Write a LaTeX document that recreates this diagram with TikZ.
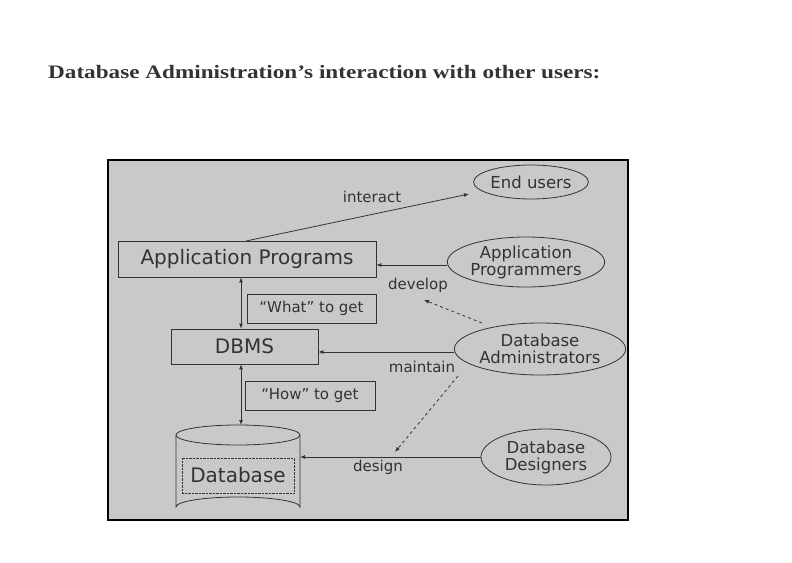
\documentclass[tikz,border=0pt]{standalone}
\usepackage{graphicx}
\usepackage{fontspec}
\setmainfont{DejaVu Sans}
\newfontfamily\titlefont{Liberation Serif}
\usetikzlibrary{shapes.geometric,arrows.meta}
\definecolor{panel}{HTML}{C9C9C9}
\definecolor{ink}{HTML}{333333}
\begin{document}
\begin{tikzpicture}[x=1pt,y=-1pt,
  box/.style={draw=ink,line width=0.8pt,inner sep=0pt},
  ell/.style={draw=ink,ellipse,line width=0.8pt,align=center,inner sep=0pt,font=\fontsize{16.5}{17}\selectfont,text=ink},
  lbl/.style={font=\fontsize{15}{15}\selectfont,text=ink},
  arr/.style={draw=ink,line width=0.8pt,-{Latex[length=5pt,width=4pt]}},
  dasharr/.style={arr,dashed}]
\useasboundingbox[fill=white] (0,0) rectangle (792,562);
\node[anchor=west,inner sep=0pt,font=\titlefont\bfseries\fontsize{19}{19}\selectfont,text=ink] (title) at (48,72) {\scalebox{1.22}[1]{Database Administration’s interaction with other users:}};
\draw[fill=panel,draw=black,line width=2pt] (108,160) rectangle (628,520);
% boxes
\node[box,minimum width=258,minimum height=36,font=\fontsize{20}{20}\selectfont,text=ink] (ap) at (247,259) {Application Programs};
\node[box,minimum width=147,minimum height=35,font=\fontsize{20}{20}\selectfont,text=ink] (dbms) at (244.5,346.5) {DBMS};
\node[box,minimum width=129,minimum height=29,lbl] (what) at (311.5,308.5) {“What” to get};
\node[box,minimum width=130,minimum height=29,lbl] (how) at (310,395.5) {“How” to get};
% cylinder
\draw[ink,line width=0.8pt,fill=panel] (176,435) -- (176,507) arc[start angle=180,end angle=360,x radius=62,y radius=10] -- (300,435);
\draw[ink,line width=0.8pt,fill=panel] (238,435) ellipse[x radius=62,y radius=10];
\node[draw=ink,densely dotted,minimum width=112,minimum height=35,font=\fontsize{20}{20}\selectfont,text=ink] (db) at (238,475.5) {Database};
\coordinate (dbtop) at (241,425);
\coordinate (dbright) at (300,457);
% ellipses
\node[ell,minimum width=110,minimum height=34] (eu) at (531,182) {End users};
\node[ell,minimum width=148,minimum height=50] (apr) at (526,262) {Application\\Programmers};
\node[ell,minimum width=164,minimum height=52] (dba) at (540,349) {Database\\Administrators};
\node[ell,minimum width=130,minimum height=56] (dbd) at (546,457) {Database\\Designers};
% connectors
\coordinate (ia) at (246,241);
\coordinate (ie) at (469,194);
\draw[arr] (ia) -- (ie);
\node[lbl] (interact) at (372,197) {interact};
\draw[arr] (apr.west |- 0,265) -- (ap.east |- 0,265);
\node[lbl] (develop) at (418,285) {develop};
\coordinate (d1s) at (482,323); \coordinate (d1e) at (424,300);
\draw[dasharr] (d1s) -- (d1e);
\draw[arr] (dba.west |- 0,352) -- (dbms.east |- 0,352);
\node[lbl] (maintain) at (422,367) {maintain};
\coordinate (d2s) at (458,376); \coordinate (d2e) at (395,452);
\draw[dasharr] (d2s) -- (d2e);
\draw[arr] (dbd.west |- 0,457) -- (dbright);
\node[lbl] (design) at (378,467) {design};
\draw[draw=ink,line width=0.8pt,{Latex[length=5pt,width=4pt]}-{Latex[length=5pt,width=4pt]}] (ap.south -| 241,0) -- (dbms.north -| 241,0);
\draw[draw=ink,line width=0.8pt,{Latex[length=5pt,width=4pt]}-{Latex[length=5pt,width=4pt]}] (dbms.south -| 241,0) -- (dbtop);
\end{tikzpicture}
\end{document}
